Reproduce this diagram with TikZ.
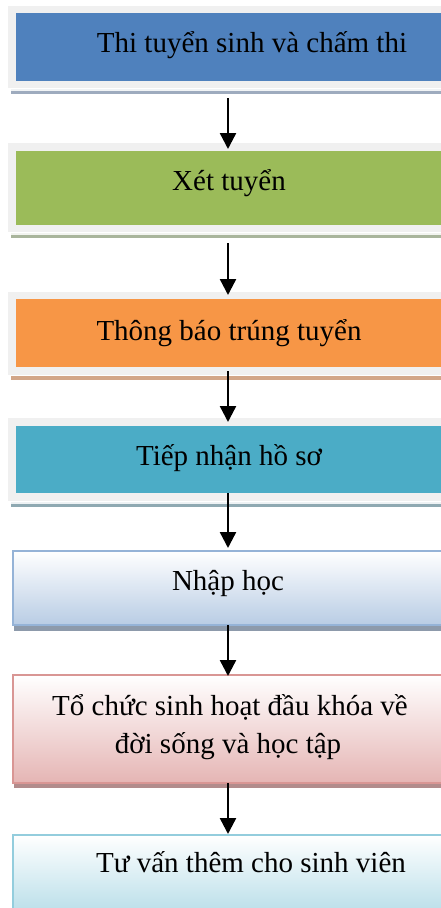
\documentclass[tikz,border=0pt]{standalone}
\usepackage{fontspec}
\setmainfont{Liberation Serif}
\usetikzlibrary{arrows.meta}
\definecolor{cblue}{HTML}{4F81BD}
\definecolor{cgreen}{HTML}{9BBB59}
\definecolor{corange}{HTML}{F79646}
\definecolor{cteal}{HTML}{4BACC6}
\definecolor{cframe}{HTML}{F0F0F0}
\definecolor{shblue}{HTML}{9EABBE}
\definecolor{shgreen}{HTML}{A9B59C}
\definecolor{shorange}{HTML}{D2A688}
\definecolor{shteal}{HTML}{8FA9B2}
\definecolor{bdblue}{HTML}{95B3D7}
\definecolor{grblue}{HTML}{B8CCE4}
\definecolor{shgblue}{HTML}{8D9AAB}
\definecolor{bdred}{HTML}{D99694}
\definecolor{grred}{HTML}{E5B5B4}
\definecolor{shred}{HTML}{B28C8C}
\definecolor{bdaqua}{HTML}{93CDDD}
\definecolor{graqua}{HTML}{B6DDE8}
\tikzset{
  fillbox/.style={draw=none, anchor=north west, inner sep=0pt, minimum width=429pt},
  gradbox/.style={anchor=north west, inner sep=0pt, minimum width=434pt, line width=2pt, top color=white},
  label/.style={anchor=base, font=\fontsize{29}{33}\selectfont, inner sep=0pt},
  flow/.style={line width=2.4pt, -{Triangle[width=16pt,length=16pt]}}
}
\begin{document}
\begin{tikzpicture}[x=1pt,y=1pt]
\useasboundingbox (0,0) rectangle (440,-908);
\fill[white] (0,0) rectangle (440,-908);
% box 1
\fill[cframe] (8,-6) rectangle (450,-88);
\fill[shblue] (11,-89) rectangle (450,-94);
\fill[white!85!shblue] (11,-89) rectangle (450,-90.5);
\node[fillbox, fill=cblue, minimum height=68pt] (b1) at (16,-13) {};
\node[label] (t1) at (252,-52) {Thi tuyển sinh và chấm thi};
% box 2
\fill[cframe] (8,-143) rectangle (450,-232);
\fill[shgreen] (11,-233) rectangle (450,-238);
\fill[white!85!shgreen] (11,-233) rectangle (450,-234.5);
\node[fillbox, fill=cgreen, minimum height=74pt] (b2) at (16,-151) {};
\node[label] (t2) at (229,-190) {Xét tuyển};
% box 3
\fill[cframe] (8,-292) rectangle (450,-375);
\fill[shorange] (11,-376) rectangle (450,-380);
\node[fillbox, fill=corange, minimum height=68pt] (b3) at (16,-299) {};
\node[label] (t3) at (229,-340) {Thông báo trúng tuyển};
% box 4
\fill[cframe] (8,-418) rectangle (450,-501);
\fill[shteal] (11,-502) rectangle (450,-507);
\fill[white!85!shteal] (11,-502) rectangle (450,-503.5);
\node[fillbox, fill=cteal, minimum height=67pt] (b4) at (16,-426) {};
\node[label] (t4) at (229,-465) {Tiếp nhận hồ sơ};
% box 5
\fill[shgblue] (14,-622) rectangle (450,-631);
\node[gradbox, draw=bdblue, bottom color=grblue, minimum height=74pt] (b5) at (12,-550) {};
\node[label] (t5) at (228,-590) {Nhập học};
% box 6
\fill[shred] (14,-780) rectangle (450,-788);
\node[gradbox, draw=bdred, bottom color=grred, minimum height=108pt] (b6) at (12,-674) {};
\node[label] (t6a) at (230,-715) {Tổ chức sinh hoạt đầu khóa về};
\node[label] (t6b) at (228,-753) {đời sống và học tập};
% box 7
\node[gradbox, draw=bdaqua, bottom color=graqua, minimum height=82pt] (b7) at (12,-834) {};
\node[label] (t7) at (251,-872) {Tư vấn thêm cho sinh viên};
% arrows
\coordinate (s1) at (228,-98);
\coordinate (s2) at (228,-243);
\coordinate (s3) at (228,-371);
\coordinate (s4) at (228,-493);
\coordinate (s5) at (228,-625);
\coordinate (s6) at (228,-783);
\draw[flow] (s1) -- ([yshift=2pt]b2.north -| s1);
\draw[flow] (s2) -- ([yshift=4pt]b3.north -| s1);
\draw[flow] (s3) -- ([yshift=4pt]b4.north -| s1);
\draw[flow] (s4) -- ([yshift=2pt]b5.north -| s1);
\draw[flow] (s5) -- ([yshift=-2pt]b6.north -| s1);
\draw[flow] (s6) -- (b7.north -| s1);
\end{tikzpicture}
\end{document}
